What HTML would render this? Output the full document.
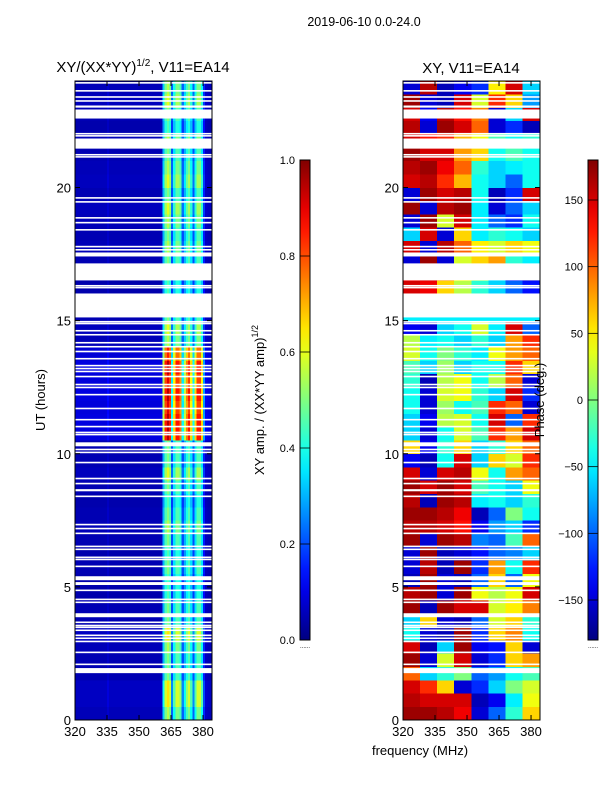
<!DOCTYPE html>
<html><head><meta charset="utf-8">
<style>
body{margin:0;background:#fff;width:600px;height:800px;overflow:hidden;font-family:"Liberation Sans","DejaVu Sans",sans-serif;}
svg text{font-family:"Liberation Sans","DejaVu Sans",sans-serif;fill:#000;}
</style></head>
<body>
<svg id="fig" xmlns="http://www.w3.org/2000/svg" width="600" height="800" viewBox="0 0 600 800">
<text x="364" y="26" font-size="12.5" text-anchor="middle">2019-06-10 0.0-24.0</text>
<text x="143" y="72" font-size="15" text-anchor="middle">XY/(XX*YY)<tspan font-size="10" dy="-6">1/2</tspan><tspan dy="6">, V11=EA14</tspan></text>
<text x="471" y="73" font-size="15" text-anchor="middle">XY, V11=EA14</text>
<g id="left"></g>
<g id="right"></g>
<g id="axes"></g>
<text transform="translate(45,400) rotate(-90)" font-size="13" text-anchor="middle">UT (hours)</text>
<text x="420" y="755" font-size="13" text-anchor="middle">frequency (MHz)</text>
<text transform="translate(264,400) rotate(-90)" font-size="13" text-anchor="middle">XY amp. / (XX*YY amp)<tspan font-size="9" dy="-6">1/2</tspan></text>
<text transform="translate(544,400) rotate(-90)" font-size="13" text-anchor="middle">Phase (deg.)</text>
</svg>
<script>
// ---- data ----
const hourStep = 0.5;
const ampFreqs = [];for(let f=320;f<384;f++)ampFreqs.push(f);
const ampCol = [0.05,0.05,0.05,0.05,0.05,0.05,0.05,0.05,0.05,0.05,0.05,0.05,0.05,0.05,0.05,0.07,0.05,0.05,0.05,0.05,
0.05,0.05,0.05,0.05,0.05,0.05,0.05,0.05,0.05,0.05,0.05,0.05,0.05,0.05,0.05,0.05,0.05,0.05,0.05,0.05,0.06,
0.3,0.45,0.5,0.45,0.2,0.35,0.45,0.45,0.4,0.2,0.3,0.4,0.45,0.35,0.2,0.35,0.45,0.45,0.35,0.15,0.06,0.05,0.05];
const ampRowGain = [1.1,1.3,1.3,1.0,1.0,1.1,1.3,1.0,1.0,0.9,0.9,1.0,0.9,1.0,1.1,1.0,0.9,1.0,1.2,1.0,1.0,1.9,1.9,1.8,1.9,1.8,1.9,1.7,1.1,1.2,1.0,1.0,0.9,0.9,1.0,1.1,1.0,1.1,1.2,1.0,1.2,1.1,1.0,1.1,0.9,1.0,1.2,1.1];
const phaseFreqs = [320,328,336,344,352,360,368,376];
const phaseRows = [
[170,170,160,140,-150,-100,-30,60],[160,150,150,150,-160,-140,-50,40],[150,120,60,-150,-120,-60,0,30],[100,-60,-30,0,-100,-80,-40,-20],
[170,-150,30,150,-150,-120,60,80],[150,-160,-60,170,-140,-130,60,-150],[-40,-150,-160,170,-120,60,90,-40],[-60,60,-150,-160,-100,30,60,-30],
[170,-160,170,150,150,30,50,90],[160,170,-150,170,40,20,40,150],[-160,170,-150,-160,-100,60,-100,40],[-150,160,-160,170,-120,80,-40,120],
[-150,170,-160,-150,-130,-100,-90,-60],[170,-150,170,160,-90,-100,-20,100],[160,160,150,130,-140,-80,-60,-120],[170,170,160,140,-160,-100,0,-40],
[160,-160,170,160,-50,-40,-60,-30],[170,150,170,150,-20,-40,-60,40],[150,-150,150,160,40,-40,80,100],[-140,-160,-40,150,-60,60,30,120],
[60,-140,-30,60,-60,-30,60,100],[-60,-150,-40,30,-20,120,80,150],[-60,-140,20,30,-40,150,-100,120],[-40,-150,10,-40,-20,120,100,-150],
[-40,-150,30,40,-30,-60,150,-120],[-30,-160,20,40,-40,20,100,-150],[-20,-60,10,-60,-40,-40,120,60],[30,-40,0,-30,-50,40,80,100],
[20,-50,-40,-60,-30,-60,80,120],[-140,-150,-60,-40,30,-50,150,-100],[-50,-50,-50,-50,-50,-50,-50,-50],[-50,-50,-50,-50,-50,-50,-50,-50],
[150,140,60,20,-30,-60,-100,-130],[140,150,80,40,0,-60,-120,-150],[-150,170,-150,30,60,80,-30,-50],[150,-150,160,100,50,30,60,40],
[-60,150,-150,60,-50,-30,-40,-60],[-150,170,30,150,-50,-100,-120,-40],[170,-150,160,170,-50,-150,-100,-60],[-150,170,150,160,-40,-160,-120,150],
[150,160,120,70,-40,-60,-100,-40],[160,170,140,100,-30,-60,-50,-40],[170,150,150,80,60,-40,-20,-40],[150,130,120,70,40,-20,-40,-30],
[160,-150,170,150,100,-150,-120,-160],[150,-140,160,130,90,-150,-60,150],[170,-150,-160,150,30,120,60,-80],[-150,160,-160,-140,-120,50,150,-60]];
const flagStart = [23.90,23.60,23.37,23.22,23.0,22.59,21.99,21.91,21.46,21.20,21.12,19.58,19.43,18.83,18.65,18.38,17.75,17.63,17.41,16.51,16.28,16.21,15.12,14.93,14.86,14.59,14.44,14.14,13.99,13.81,13.54,13.28,13.17,13.06,12.87,12.57,12.46,12.19,11.67,11.25,10.99,10.77,10.69,10.28,10.13,10.02,9.64,9.04,8.85,8.59,8.37,7.31,7.16,6.98,6.49,6.38,6.08,6.0,5.74,5.25,5.07,4.84,4.50,4.39,3.86,3.64,3.52,3.45,3.34,3.15,3.04,2.92,2.51,2.06,1.76];
const flagEnd   = [23.96,23.66,23.43,23.28,23.08,22.93,22.05,21.97,21.84,21.26,21.18,19.64,19.49,18.89,18.71,18.44,17.81,17.69,17.56,17.15,16.34,16.27,16.02,14.99,14.92,14.65,14.50,14.20,14.05,13.87,13.60,13.34,13.23,13.12,12.93,12.63,12.52,12.25,11.73,11.31,11.05,10.83,10.75,10.43,10.19,10.08,9.70,9.10,8.91,8.67,8.43,7.37,7.22,7.04,6.55,6.44,6.14,6.06,5.80,5.40,5.18,4.90,4.56,4.45,4.01,3.70,3.58,3.51,3.40,3.21,3.10,2.98,2.57,2.12,1.95];
const xTicks = [320,335,350,365,380];
const yTicks = [0,5,10,15,20];
const ampTicks = [0.0,0.2,0.4,0.6,0.8,1.0];
const phaseTicks = [-150,-100,-50,0,50,100,150];
// ---- scales ----
const NS="http://www.w3.org/2000/svg";
const panels=[{x0:75,x1:212},{x0:403,x1:540}];
const fMin=320,fMax=384.2,hMax=24;
function xs(p,f){return p.x0+(f-fMin)/(fMax-fMin)*(p.x1-p.x0);}
function ys(h){return 720-h/hMax*639;}
function jet(v){v=Math.max(0,Math.min(1,v));const c=t=>Math.round(255*Math.max(0,Math.min(1,1.5-Math.abs(4*v-t))));return `rgb(${c(3)},${c(2)},${c(1)})`;}
function mk(tag,attrs,parent){const e=document.createElementNS(NS,tag);for(const k in attrs)e.setAttribute(k,attrs[k]);parent.appendChild(e);return e;}
const L=document.getElementById('left'),R=document.getElementById('right'),A=document.getElementById('axes');
// amplitude heatmap
for(let r=0;r<ampRowGain.length;r++){
  const yA=ys((r+1)*hourStep),yB=ys(r*hourStep);
  for(let c=0;c<ampFreqs.length;c++){
    const xA=xs(panels[0],ampFreqs[c]),xB=xs(panels[0],Math.min(fMax,ampFreqs[c]+1));
    const v=ampCol[c]*ampRowGain[r];
    const e=mk('rect',{x:xA.toFixed(2),y:yA.toFixed(2),width:(xB-xA+0.3).toFixed(2),height:(yB-yA+0.3).toFixed(2),fill:jet(v),'shape-rendering':'crispEdges'},L);
    
    
  }
}
// phase heatmap
for(let r=0;r<phaseRows.length;r++){
  const yA=ys((r+1)*hourStep),yB=ys(r*hourStep);
  for(let c=0;c<phaseFreqs.length;c++){
    const fe=c+1<phaseFreqs.length?phaseFreqs[c+1]:fMax;
    const xA=xs(panels[1],phaseFreqs[c]),xB=xs(panels[1],fe);
    const v=(phaseRows[r][c]+180)/360;
    const e=mk('rect',{x:xA.toFixed(2),y:yA.toFixed(2),width:(xB-xA+0.3).toFixed(2),height:(yB-yA+0.3).toFixed(2),fill:jet(v),'shape-rendering':'crispEdges'},R);
    
    
  }
}
// flags
for(let i=0;i<flagStart.length;i++){
  for(const [p,g] of [[panels[0],L],[panels[1],R]]){
    const e=mk('rect',{x:p.x0,y:ys(flagEnd[i]).toFixed(2),width:p.x1-p.x0,height:Math.max(1.2,ys(flagStart[i])-ys(flagEnd[i])).toFixed(2),fill:'#fff'},g);
    
    
  }
}
// axes
panels.forEach((p,pi)=>{
  const fr=mk('rect',{x:p.x0,y:81,width:p.x1-p.x0,height:639,fill:'none',stroke:'#000','stroke-width':1},A);
  
  
  xTicks.forEach(t=>{
    const x=xs(p,t);
    mk('line',{x1:x,x2:x,y1:720,y2:715,stroke:'#000'},A);mk('line',{x1:x,x2:x,y1:81,y2:86,stroke:'#000'},A);
    const tx=mk('text',{x:x,y:736,'font-size':13,'text-anchor':'middle'},A);tx.textContent=t;
    
    
  });
  yTicks.forEach(t=>{
    const y=ys(t);
    mk('line',{x1:p.x0,x2:p.x0+5,y1:y,y2:y,stroke:'#000'},A);mk('line',{x1:p.x1,x2:p.x1-5,y1:y,y2:y,stroke:'#000'},A);
    const tx=mk('text',{x:p.x0-4,y:y+5,'font-size':13,'text-anchor':'end'},A);tx.textContent=t;
    
    
  });
});
// colorbars
function colorbar(x,id,ticks,vmin,vmax,fmt){
  const defs=mk('defs',{},A);const lg=mk('linearGradient',{id:id,x1:0,y1:1,x2:0,y2:0},defs);
  for(let i=0;i<=20;i++)mk('stop',{offset:i/20,'stop-color':jet(i/20)},lg);
  const b=mk('rect',{x:x,y:160,width:10,height:480,fill:`url(#${id})`,stroke:'#000','stroke-width':1},A);
  
  
  ticks.forEach(t=>{
    const y=640-(t-vmin)/(vmax-vmin)*480;
    mk('line',{x1:x,x2:x+10,y1:y,y2:y,stroke:'#000','stroke-width':0.8},A);
    const tx=mk('text',{x:x-5,y:y+4,'font-size':11,'text-anchor':'end'},A);tx.textContent=fmt(t);
    
    
  });
  const d=mk('text',{x:x+5,y:648,'font-size':6,'text-anchor':'middle',fill:'#888'},A);d.textContent='......';
}
colorbar(300,'amp-colorbar',ampTicks,0,1,t=>t.toFixed(1));
colorbar(588,'phase-colorbar',phaseTicks,-180,180,t=>t<0?'\u2212'+(-t):String(t));
</script>
</body></html>
